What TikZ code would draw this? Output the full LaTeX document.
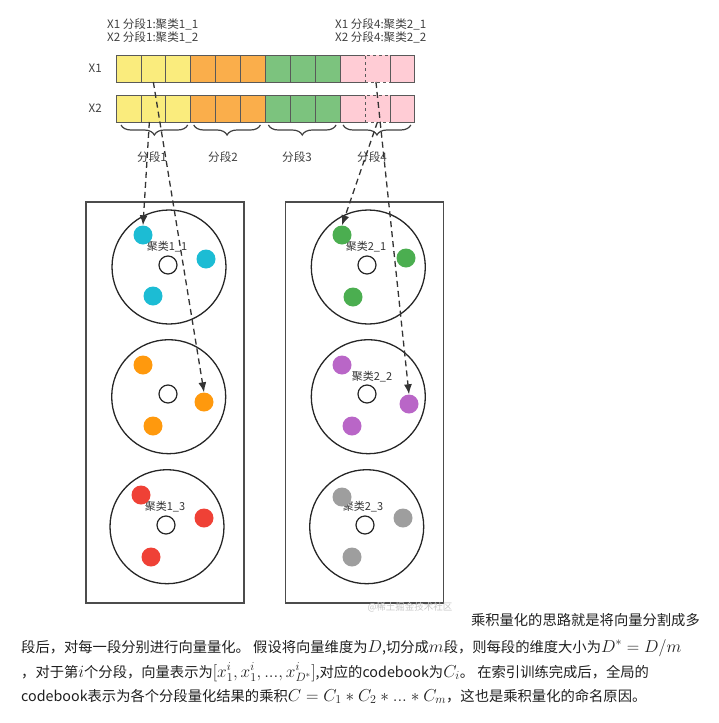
\documentclass[tikz,border=0pt]{standalone}
\usepackage{fontspec}
\setmainfont{Noto Sans CJK SC}
\usetikzlibrary{arrows.meta,decorations.pathreplacing,positioning}

\definecolor{cellyellow}{HTML}{FAEC7D}
\definecolor{cellorange}{HTML}{FAAE4B}
\definecolor{cellgreen}{HTML}{7CC37E}
\definecolor{cellpink}{HTML}{FFCCD5}
\definecolor{dotcyan}{HTML}{1CBCD4}
\definecolor{dotorange}{HTML}{FF990D}
\definecolor{dotred}{HTML}{EF4136}
\definecolor{dotgreen}{HTML}{4BAE50}
\definecolor{dotpurple}{HTML}{B966C7}
\definecolor{dotgray}{HTML}{9E9E9E}

\newcommand{\kmath}[1]{{\fontsize{17.3}{20}\selectfont$#1$}}

\begin{document}
\begin{tikzpicture}
[
  x=1pt, y=-1pt,
  cell/.style={draw=black!65, line width=0.8pt, minimum width=24.9pt, minimum height=27pt, inner sep=0pt, outer sep=0pt},
  lbl/.style={font=\fontsize{11.6}{13}\selectfont, text=black!75, inner sep=0pt},
  clbl/.style={font=\fontsize{11}{12}\selectfont, text=black!80, inner sep=0pt},
  para/.style={font=\fontsize{14.3}{16}\selectfont, text=black!88, inner sep=0pt},
  dot/.style={circle, minimum size=19pt, inner sep=0pt},
  centre/.style={circle, draw=black!85, fill=white, line width=1.2pt, minimum size=18pt, inner sep=0pt},
  cluster/.style={circle, draw=black!85, line width=1.3pt, minimum size=114pt, inner sep=0pt},
  column/.style={draw=black!70, line width=1.3pt, minimum width=158pt, minimum height=401pt, inner sep=0pt},
  link/.style={dash pattern=on 6pt off 4pt, line width=1.3pt, black!80, -{Latex[length=10pt,width=8pt]}},
  seg/.style={decorate, decoration={brace, mirror, amplitude=10pt}, line width=1.2pt, black!75}
]
  \useasboundingbox (0,0) rectangle (719,723);

  \foreach \i/\c/\s in {1/cellyellow/solid, 2/cellyellow/solid, 3/cellyellow/solid,
                        4/cellorange/solid, 5/cellorange/solid, 6/cellorange/solid,
                        7/cellgreen/solid, 8/cellgreen/solid, 9/cellgreen/solid,
                        10/cellpink/solid, 12/cellpink/solid, 11/cellpink/dashed}
  {
    \node[cell, fill=\c, \s] (a\i) at ({103.55+24.9*\i},68.5) {};
    \node[cell, fill=\c, \s] (b\i) at ({103.55+24.9*\i},108.5) {};
  }
  \node[lbl, left=14pt of a1] (x1) {X1};
  \node[lbl, left=14pt of b1] (x2) {X2};

  \node[lbl, anchor=west, align=left] (top1) at (107,30.5) {X1 分段1:聚类1\_1\\X2 分段1:聚类1\_2};
  \node[lbl, anchor=west, align=left] (top4) at (335,30.5) {X1 分段4:聚类2\_1\\X2 分段4:聚类2\_2};

  \draw[seg] ([xshift=5pt,yshift=-3pt]b1.south west) -- ([xshift=-3pt,yshift=-3pt]b3.south east);
  \draw[seg] ([xshift=3pt,yshift=-3pt]b4.south west) -- ([xshift=-5pt,yshift=-3pt]b6.south east);
  \draw[seg] ([xshift=3pt,yshift=-3pt]b7.south west) -- ([xshift=-4pt,yshift=-3pt]b9.south east);
  \draw[seg] ([xshift=3pt,yshift=-3pt]b10.south west) -- ([xshift=-4pt,yshift=-3pt]b12.south east);
  \node[lbl] (s1) at (152,157) {分段1};
  \node[lbl] (s2) at (223,157) {分段2};
  \node[lbl] (s3) at (297,157) {分段3};
  \node[lbl] (s4) at (372,157) {分段4};

  \node[column] (colL) at (165,402.5) {};
  \node[column] (colR) at (364.5,402.5) {};

  \node[cluster] (k11) at (169,267) {};
  \node[cluster] (k12) at (168.7,396.7) {};
  \node[cluster] (k13) at (167,526.7) {};
  \node[cluster] (k21) at (368.3,267) {};
  \node[cluster] (k22) at (368.3,396.7) {};
  \node[cluster] (k23) at (366.7,526.7) {};

  \node[centre] (m11) at (168,265) {};
  \node[centre] (m12) at (168,394) {};
  \node[centre] (m13) at (166,525) {};
  \node[centre] (m21) at (367,265) {};
  \node[centre] (m22) at (367,394) {};
  \node[centre] (m23) at (365,525) {};

  \node[clbl] (n11) at (167,247) {聚类1\_1};
  \node[clbl] (n21) at (366,247) {聚类2\_1};
  \node[clbl] (n22) at (372,377) {聚类2\_2};
  \node[clbl] (n13) at (165,507) {聚类1\_3};
  \node[clbl] (n23) at (363,507) {聚类2\_3};

  \foreach \n/\px/\py/\c in {c1/143/235/dotcyan, c2/206/259/dotcyan, c3/153/296/dotcyan,
                            o1/143/365/dotorange, o2/204/402/dotorange, o3/153/426/dotorange,
                            r1/141/495/dotred, r2/204/518/dotred, r3/151/557/dotred,
                            g1/342/235/dotgreen, g2/406/258/dotgreen, g3/353/297/dotgreen,
                            p1/342/365/dotpurple, p2/409/404/dotpurple, p3/352/426/dotpurple,
                            e1/342/497/dotgray, e2/403/518/dotgray, e3/352/557/dotgray}
    \node[dot, fill=\c] (\n) at (\px,\py) {};

  \draw[link] (a2.south) -- (o2.north);
  \draw[link] ([xshift=-4pt]b2.south) -- (c1.north);
  \draw[link] (b11.south) -- (g1.north);
  \draw[link] ([xshift=-1.5pt]a11.south) -- (p2.north);

  \node[text=black!22, font=\fontsize{9.5}{10}\selectfont, inner sep=0pt] (wm) at (410,607) {@稀土掘金技术社区};

  \node[para, anchor=base east] (line1) at (700,625.5) {乘积量化的思路就是将向量分割成多};
  \node[para, anchor=base west] (line2) at (21,652) {段后，对每一段分别进行向量量化。 假设将向量维度为\kmath{D},切分成\kmath{m}段，则每段的维度大小为\kmath{D^*=D/m}};
  \node[para, anchor=base west] (line3) at (21,677) {，对于第\kmath{i}个分段，向量表示为\kmath{[x_1^i,x_1^i,...,x_{D^*}^i]},对应的codebook为\kmath{C_i}。 在索引训练完成后，全局的};
  \node[para, anchor=base west] (line4) at (21,701) {codebook表示为各个分段量化结果的乘积\kmath{C=C_1*C_2*...*C_m}，这也是乘积量化的命名原因。};
\end{tikzpicture}
\end{document}
